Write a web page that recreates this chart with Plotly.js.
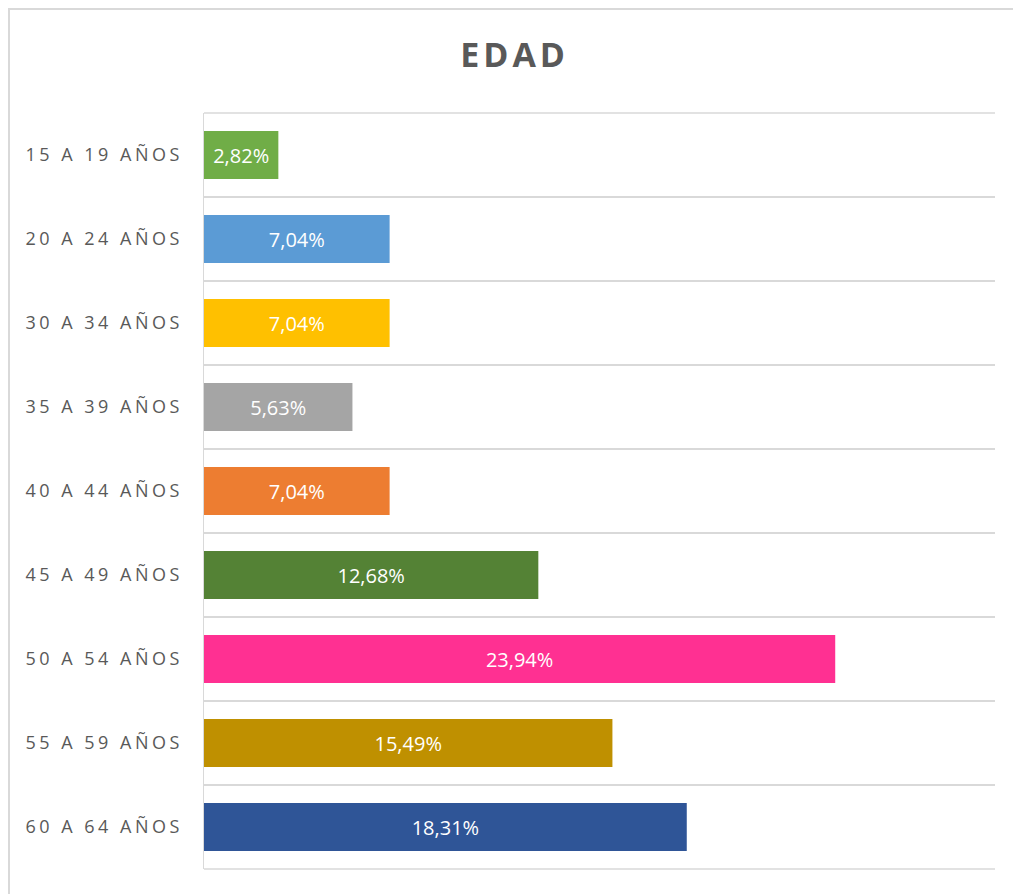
<!DOCTYPE html>
<html>
<head>
<meta charset="utf-8">
<script src="https://cdn.plot.ly/plotly-3.0.1.min.js"></script>
<style>
  html, body { margin: 0; padding: 0; background: #fff; }
  #wrap { position: relative; width: 1013px; height: 894px; overflow: hidden; }
  #chart { position: absolute; left: 0; top: 0; width: 1013px; height: 894px; }
  #frame { position: absolute; left: 8px; top: 8px; width: 1100px; height: 1000px;
           border-left: 2px solid #d9d9d9; border-top: 2px solid #d9d9d9; pointer-events: none; }
  .ytick text { letter-spacing: 3.5px; }
</style>
</head>
<body>
<div id="wrap">
  <div id="chart"></div>
  <div id="frame"></div>
</div>
<script>
const categories = ["15 A 19 AÑOS", "20 A 24 AÑOS", "30 A 34 AÑOS", "35 A 39 AÑOS", "40 A 44 AÑOS",
                    "45 A 49 AÑOS", "50 A 54 AÑOS", "55 A 59 AÑOS", "60 A 64 AÑOS"];
const values = [2.82, 7.04, 7.04, 5.63, 7.04, 12.68, 23.94, 15.49, 18.31];
const colors = ["#70AD47", "#5B9BD5", "#FFC000", "#A5A5A5", "#ED7D31", "#548235", "#FF3092", "#BF9000", "#2F5597"];
const labels = values.map(v => v.toFixed(2).replace('.', ',') + '%');

const trace = {
  type: 'bar',
  orientation: 'h',
  y: categories,
  x: values,
  text: labels,
  textposition: 'inside',
  insidetextanchor: 'middle',
  textangle: 0,
  textfont: { family: '"Open Sans", sans-serif', size: 20, color: '#ffffff' },
  marker: { color: colors },
  hoverinfo: 'none'
};

const gridLine = { type: 'line', xref: 'paper', yref: 'paper', x0: 0, x1: 1,
                   line: { color: '#d9d9d9', width: 1.5 }, layer: 'below' };

const layout = {
  width: 1013,
  height: 894,
  margin: { l: 204, r: 18, t: 113, b: 25 },
  paper_bgcolor: '#ffffff',
  plot_bgcolor: '#ffffff',
  showlegend: false,
  bargap: 0.43,
  title: {
    text: 'EDAD',
    x: 0.508, xanchor: 'center',
    y: 0.938, yref: 'container', yanchor: 'middle',
    font: { family: '"Open Sans", sans-serif', size: 34, color: '#595959', weight: 'bold' }
  },
  shapes: [
    Object.assign({}, gridLine, { y0: 1, y1: 1 }),
    Object.assign({}, gridLine, { y0: 0, y1: 0 })
  ],
  xaxis: {
    range: [0, 30],
    showticklabels: false,
    showgrid: false,
    zeroline: false,
    showline: false,
    fixedrange: true
  },
  yaxis: {
    type: 'category',
    autorange: 'reversed',
    tickson: 'boundaries',
    showgrid: true,
    gridcolor: '#d9d9d9',
    gridwidth: 1.5,
    showline: true,
    linecolor: '#d9d9d9',
    linewidth: 1.5,
    ticks: '',
    ticklabelstandoff: 16,
    tickfont: { family: '"Open Sans", sans-serif', size: 18, color: '#595959' },
    fixedrange: true
  }
};

Plotly.newPlot('chart', [trace], layout, { displayModeBar: false, staticPlot: true }).then(() => {
  const t = document.querySelector('.gtitle');
  if (t) t.style.letterSpacing = '4px';
});
</script>
</body>
</html>
